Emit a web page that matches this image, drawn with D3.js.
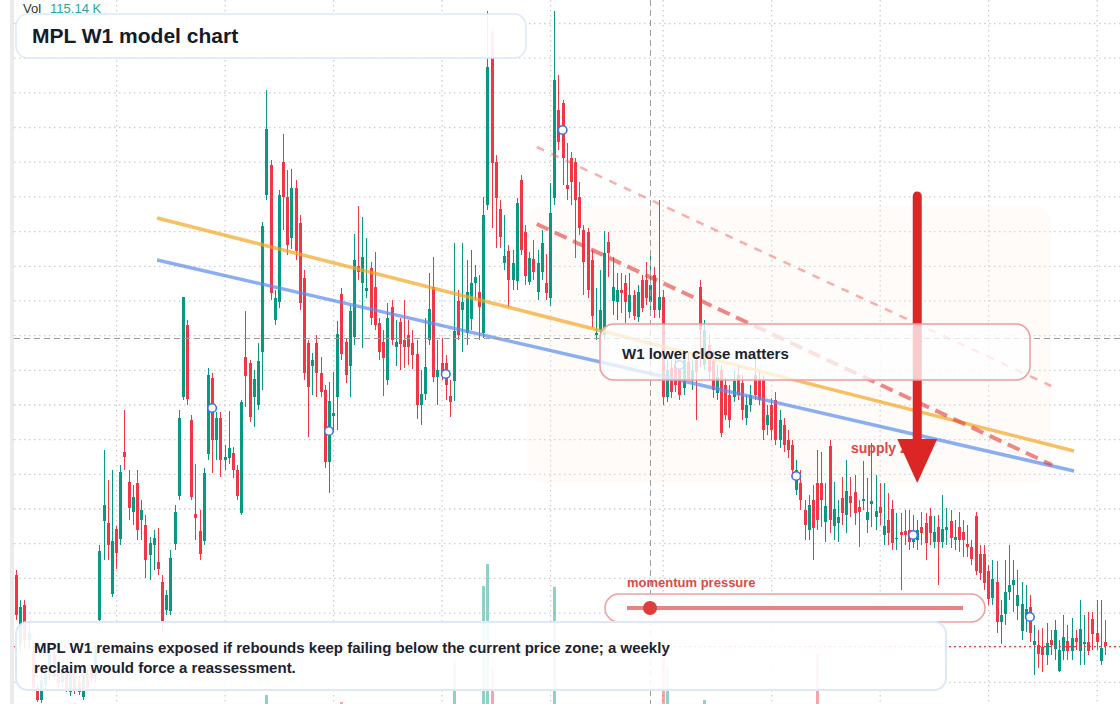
<!DOCTYPE html>
<html>
<head>
<meta charset="utf-8">
<script src="https://cdn.jsdelivr.net/npm/d3@7"></script>
<style>
  html, body { margin: 0; padding: 0; background: #fff; overflow: hidden; }
  svg { display: block; font-family: "Liberation Sans", Arial, sans-serif; }
</style>
</head>
<body>
<svg id="chart" width="1120" height="704"></svg>
<script>
// weekly candles, [open, high, low, close]
var ohlc = [
  [22.5,23.0,18.0,18.5],[15.5,20.0,14.8,19.3],[19.5,20.0,15.2,16.0],[16.0,17.5,15.0,16.7],[14.8,15.5,11.1,11.2],
  [11.2,11.6,9.8,10.0],[10.0,12.8,9.7,12.0],[11.5,13.5,11.0,12.8],[12.7,15.5,12.0,14.7],[14.5,15.0,12.0,12.3],
  [13.5,14.2,11.2,11.7],[11.8,13.8,11.3,13.0],[13.2,13.6,10.8,11.2],[10.8,13.5,10.4,12.7],[12.5,13.0,10.6,11.0],
  [11.8,12.5,10.5,10.8],[10.3,13.0,10.0,12.5],[12.7,13.2,10.9,11.2],[13.0,13.5,11.8,12.2],[12.4,15.5,11.8,14.8],
  // 20
  [18.0,25.5,17.5,24.9],[27.9,35.0,24.0,29.5],[27.7,32.0,24.0,25.5],[20.6,33.0,20.3,25.9],[27.1,27.4,23.1,24.7],
  [26.1,33.5,25.5,32.8],[34.8,39.0,33.0,34.3],[31.8,33.0,28.0,29.2],[28.8,31.5,27.5,30.3],[31.7,33.0,26.0,27.0],
  [28.0,30.0,26.0,29.0],[27.5,28.5,22.2,24.0],[24.5,26.3,22.0,25.7],[25.5,27.0,23.0,26.2],[23.8,27.2,22.5,23.1],
  [21.8,22.5,16.8,17.8],[19.0,21.0,18.5,20.5],[18.9,25.0,18.5,24.2],[25.6,29.5,25.0,28.8],[30.4,39.0,30.0,38.2],
  // 40
  [40.3,50.3,40.0,50.3],[47.5,48.0,39.5,40.1],[38.0,38.5,30.0,30.3],[28.6,33.6,26.0,28.2],[26.9,29.0,24.0,24.6],
  [25.9,33.2,25.5,32.7],[34.6,43.2,34.0,42.5],[42.2,42.7,32.7,36.0],[36.0,38.8,34.0,38.2],[38.2,38.8,32.3,34.0],
  [34.0,35.5,33.0,34.3],[34.2,38.9,33.6,35.2],[34.7,35.3,32.2,33.0],[33.0,33.5,30.0,30.4],[28.7,40.0,28.5,39.8],
  [44.3,48.9,39.3,42.4],[43.7,44.0,37.8,38.3],[40.3,43.0,37.3,42.1],[39.5,45.7,39.0,43.9],[44.8,57.8,41.0,57.4],
  // 60
  [60.5,71.0,60.0,67.1],[63.5,64.0,50.0,50.7],[48.0,51.0,47.5,50.2],[49.8,61.0,49.2,60.5],[63.8,66.6,57.0,60.3],
  [60.3,63.0,54.5,55.5],[56.2,63.1,55.1,61.2],[61.2,62.0,54.0,54.9],[57.7,58.5,49.0,49.7],[52.2,53.0,42.0,42.7],
  [45.7,46.0,36.3,41.3],[43.4,44.7,40.5,44.0],[45.7,46.5,40.3,42.7],[42.7,44.3,40.3,40.8],[41.0,41.5,33.2,33.8],
  [33.8,41.8,30.7,39.9],[38.4,42.8,37.0,38.7],[40.3,47.9,37.0,46.6],[50.6,51.2,44.0,44.6],[45.8,46.2,41.7,42.5],
  // 80
  [43.4,49.5,40.3,48.9],[46.3,56.6,45.5,54.0],[53.4,59.4,52.0,52.8],[51.7,58.3,45.2,54.3],[50.9,56.2,50.2,51.2],
  [53.2,53.8,47.5,48.2],[51.3,54.8,47.0,47.5],[47.7,48.2,44.0,44.8],[45.8,47.0,40.4,44.2],[42.0,49.7,41.5,48.2],
  [49.3,50.0,45.5,46.0],[45.3,48.0,43.4,45.8],[47.8,48.2,43.0,45.6],[46.0,50.0,43.2,45.3],[46.5,48.0,43.5,45.3],
  [45.7,47.0,43.1,44.5],[44.6,46.0,38.1,39.5],[39.5,43.0,37.5,40.6],[40.6,48.2,40.0,43.3],[46.0,52.7,45.5,49.1],
  // 100
  [51.3,54.3,41.8,42.3],[42.3,46.0,39.5,43.0],[43.7,46.2,42.0,42.6],[43.7,44.5,40.0,41.5],[40.4,42.0,38.3,39.8],
  [41.9,55.7,39.9,46.9],[49.9,51.0,46.0,46.5],[49.0,55.7,44.8,49.8],[46.7,54.0,45.5,50.8],[48.1,55.0,47.0,51.7],
  [51.7,53.5,50.0,52.3],[50.8,52.5,46.0,49.3],[46.7,60.3,46.2,58.5],[59.5,78.9,59.0,73.3],[76.8,77.2,57.2,63.7],
  [63.8,64.5,55.2,60.2],[59.1,60.0,55.2,56.3],[53.7,58.5,53.0,54.4],[54.9,55.5,49.3,52.0],[52.0,55.0,51.0,53.7],
  // 120
  [51.9,60.2,51.0,59.7],[62.0,62.5,54.5,55.0],[56.8,57.5,51.5,52.4],[51.8,54.8,51.5,54.2],[54.1,56.0,52.0,52.8],
  [50.8,55.0,50.0,53.7],[52.8,57.0,52.0,55.7],[51.7,54.6,50.0,50.7],[50.2,61.7,49.4,58.7],[60.2,78.9,59.5,72.0],
  [69.0,72.5,65.0,65.8],[69.7,70.0,61.5,64.2],[61.5,65.7,60.0,61.1],[64.2,64.8,59.5,61.8],[63.8,64.2,54.2,60.0],
  [60.3,61.8,56.5,57.2],[57.0,57.5,50.5,53.8],[56.8,57.2,50.2,51.0],[54.0,55.0,47.3,48.4],[46.5,51.2,46.0,46.7],
  // 140
  [47.0,53.0,46.5,49.0],[46.5,56.9,46.0,54.7],[55.8,56.8,52.3,54.7],[49.9,54.3,48.5,51.3],[49.8,52.7,48.0,51.0],
  [51.0,52.7,48.7,50.7],[51.7,52.5,47.7,49.8],[48.8,52.7,48.2,50.5],[50.5,51.0,48.0,48.4],[48.3,51.5,47.8,50.8],
  [52.0,52.5,48.8,49.2],[52.0,53.8,49.5,50.2],[49.8,55.0,49.0,51.5],[52.5,53.3,48.2,49.0],[49.0,60.0,48.2,50.3],
  [50.3,51.0,39.5,40.3],[40.3,44.0,39.8,43.0],[43.2,44.0,40.2,40.8],[43.5,44.5,40.8,41.5],[43.2,44.0,40.0,40.5],
  // 160
  [41.2,45.0,40.5,44.0],[43.8,44.8,42.0,42.0],[42.0,44.0,41.0,43.0],[44.0,45.0,38.0,42.8],[51.3,52.0,43.3,47.0],
  [43.5,48.0,43.0,47.0],[45.5,46.5,42.0,42.8],[44.0,45.0,40.2,41.0],[40.7,43.5,40.0,42.3],[43.0,43.5,36.3,36.7],
  [41.5,42.2,38.0,38.5],[40.5,41.5,37.2,38.0],[40.3,43.0,39.8,41.9],[42.5,43.5,40.0,40.5],[41.7,42.5,38.0,39.0],
  [38.2,40.5,37.5,39.5],[39.5,41.5,38.8,40.5],[42.5,44.5,40.0,40.5],[42.0,43.0,39.5,40.0],[42.0,42.5,36.0,37.0],
  // 180
  [37.5,39.5,36.5,38.5],[39.5,40.2,36.0,37.0],[40.0,40.8,35.5,36.0],[36.0,39.0,35.2,38.0],[37.5,38.2,34.8,35.5],
  [36.0,37.0,34.2,35.0],[35.5,36.0,32.2,33.0],[31.0,34.0,30.5,33.0],[31.7,33.0,29.0,30.0],[29.0,30.0,26.0,27.5],
  [27.0,30.5,26.0,29.5],[30.0,31.5,24.0,27.2],[31.7,35.0,27.0,28.0],[31.7,34.8,27.3,30.0],[27.8,31.7,25.8,29.4],
  [35.4,36.0,26.7,28.0],[27.4,31.8,26.0,29.1],[27.7,30.0,25.8,28.3],[30.2,32.3,27.5,28.7],[28.5,34.0,26.7,30.9],
  // 200
  [30.4,32.3,28.3,29.7],[30.8,32.5,27.5,28.7],[29.3,30.0,25.3,28.8],[29.9,33.9,29.0,30.1],[28.0,32.2,26.7,28.8],
  [29.6,35.7,27.3,29.9],[28.3,32.5,27.0,28.9],[29.3,31.7,27.5,28.7],[26.5,31.7,25.5,27.4],[28.0,30.7,25.5,26.7],
  [29.1,30.0,25.0,25.7],[26.1,28.7,25.0,26.2],[26.8,28.7,21.0,26.5],[26.9,29.0,25.5,26.5],[27.0,29.0,25.0,25.8],
  [25.8,28.5,25.2,26.7],[26.0,28.0,25.0,27.0],[27.3,28.8,25.5,26.7],[27.7,28.7,24.0,25.7],[28.4,29.2,25.5,26.7],
  // 220
  [25.8,28.4,25.2,26.8],[27.3,28.5,21.5,25.8],[25.8,30.5,25.2,27.1],[27.0,29.2,25.5,27.3],[27.9,29.0,25.2,26.2],
  [26.0,28.0,25.0,26.3],[27.3,28.8,24.8,26.0],[26.8,28.0,24.3,26.0],[25.6,27.5,24.3,25.3],[25.3,26.0,23.5,24.1],
  [28.4,28.8,22.5,22.9],[24.6,25.5,22.0,22.7],[24.6,25.5,21.0,21.7],[22.9,23.5,19.5,20.1],[20.2,24.0,19.5,22.1],
  [21.8,23.9,16.7,17.8],[17.8,20.0,15.6,18.5],[18.6,24.0,17.5,20.8],[20.8,25.5,20.0,21.5],[21.5,24.0,18.8,22.0],
  // 240
  [19.4,23.0,18.0,20.5],[16.9,21.8,16.0,19.6],[18.1,21.5,16.8,19.1],[19.3,20.5,15.8,16.7],[15.5,17.5,12.5,15.9],
  [15.5,17.0,13.2,14.6],[15.3,17.2,12.8,14.5],[14.5,17.7,13.5,15.7],[16.0,17.0,14.5,15.5],[15.1,18.0,14.0,17.0],
  [12.9,16.0,12.8,15.0],[14.9,18.5,14.0,16.3],[15.9,17.5,14.0,14.9],[14.9,18.2,14.0,16.2],[16.2,17.0,15.0,15.8],
  [14.9,20.0,13.5,17.1],[15.6,18.5,13.5,15.8],[15.8,18.8,14.5,14.9],[18.1,18.8,15.0,16.6],[16.7,20.0,15.0,15.8],
  // 260
  [13.9,20.0,13.5,15.2],[15.8,18.0,14.5,15.4]
];

// volume in K
var volume = [
  220,180,160,150,210,260,240,170,190,150,140,160,150,170,140,130,160,150,140,200,
  270,260,250,240,200,260,240,210,180,200,170,190,160,150,170,230,160,220,240,270,
  280,270,260,220,200,260,270,250,220,240,180,190,170,180,200,260,250,200,220,270,
  600,280,250,270,260,240,230,250,260,270,250,190,200,180,220,230,180,260,350,230,
  240,270,200,250,180,220,220,200,190,230,200,170,180,170,160,170,250,180,220,260,
  270,210,180,190,200,1800,260,220,230,240,190,200,4430,5200,1550,270,260,240,230,220,
  270,260,230,210,200,220,230,210,270,4400,280,270,260,250,270,240,260,250,260,220,
  230,270,260,220,200,190,210,200,190,200,210,200,220,230,240,2460,1550,260,230,240,
  220,200,230,260,240,420,230,220,200,260,240,220,210,220,230,200,190,210,220,260,
  200,220,240,210,220,200,240,260,230,250,230,240,2040,260,220,270,220,200,220,230,
  210,220,200,200,190,220,200,210,200,220,230,210,250,200,210,200,190,210,220,210,
  200,230,210,200,220,190,210,200,200,220,260,230,240,250,220,270,230,220,210,200,
  200,220,210,230,220,200,210,190,180,200,190,210,200,190,180,200,190,200,180,190,
  170,115.14
];

var gridPrices = [77.7, 74.23, 70.76, 67.3, 63.83, 60.36, 56.89, 53.42, 49.96, 46.49,
  43.02, 39.55, 36.08, 32.62, 29.15, 25.68, 22.21, 18.74, 15.28, 11.81];
var gridIdx = [24, 50, 76, 102, 128, 155, 181, 207, 233, 259];

var markerIdx = [47, 75, 103, 131, 159, 187, 215, 243];
var markerPrice = [39.2, 36.9, 42.6, 67.0, 43.5, 32.4, 26.5, 18.3];

var orangeLine = [[33.8, 58.2], [253.6, 34.9]];
var blueLine = [[33.8, 54.0], [253.6, 32.9]];
var upperDash = [[124.8, 65.3], [248.1, 41.4]];
var lowerDash = [[124.8, 57.6], [248.3, 33.5]];
var zoneIdx = [122.4, 248.1], zonePrice = [59.4, 31.7];
var arrowIdx = 216, arrowPrice = [60.4, 31.7];
var crossIdx = 152, crossPrice = 46.2;
var lastPrice = 15.4;

var title = "MPL W1 model chart";
var note = ["MPL W1 remains exposed if rebounds keep failing below the current price zone; a weekly",
  "reclaim would force a reassessment."];

var W = 1120, H = 704;
var upColor = "#089981", downColor = "#f23645";

var svg = d3.select("#chart");
var x = d3.scaleLinear().domain([0, ohlc.length - 1]).range([16, 1105]);
var y = d3.scaleLinear().domain([9.6, 80]).range([H, 0]);
var yVol = d3.scaleLinear().domain([0, 5200]).range([712, 564]);

svg.append("rect").attr("width", W).attr("height", H).attr("fill", "#fff");
svg.append("rect").attr("x", 10).attr("width", 4).attr("height", H).attr("fill", "#ebebeb");

// grid
svg.append("g").attr("class", "gridY").attr("transform", "translate(14,0)")
  .call(d3.axisRight(y).tickValues(gridPrices).tickSize(W - 14).tickFormat(""));
svg.append("g").attr("class", "gridX")
  .call(d3.axisBottom(x).tickValues(gridIdx).tickSize(H).tickFormat(""));
svg.selectAll(".gridY .domain, .gridX .domain").remove();
svg.selectAll(".gridY line, .gridX line")
  .attr("stroke", "#cdcdcd").attr("stroke-width", 1.3).attr("stroke-dasharray", "1.5,3.5");

// shaded zone
svg.append("rect")
  .attr("x", x(zoneIdx[0])).attr("y", y(zonePrice[0]))
  .attr("width", x(zoneIdx[1]) - x(zoneIdx[0])).attr("height", y(zonePrice[1]) - y(zonePrice[0]))
  .attr("rx", 18).attr("fill", "#fbeee4").attr("opacity", 0.22);

// volume
svg.append("g").selectAll("rect").data(volume).enter().append("rect")
  .attr("x", function (d, i) { return Math.round(x(i)) - 1; })
  .attr("y", function (d) { return yVol(d); })
  .attr("width", 3)
  .attr("height", function (d) { return yVol(0) - yVol(d); })
  .attr("fill", function (d, i) { return ohlc[i][3] >= ohlc[i][0] ? upColor : downColor; })
  .attr("opacity", 0.45);

// candles
var candle = svg.append("g").selectAll("g").data(ohlc).enter().append("g");
candle.append("line")
  .attr("x1", function (d, i) { return Math.round(x(i)) + 0.5; })
  .attr("x2", function (d, i) { return Math.round(x(i)) + 0.5; })
  .attr("y1", function (d) { return y(d[1]); })
  .attr("y2", function (d) { return y(d[2]); })
  .attr("stroke", function (d) { return d[3] >= d[0] ? upColor : downColor; })
  .attr("stroke-width", 1);
candle.append("rect")
  .attr("x", function (d, i) { return Math.round(x(i)) - 1; })
  .attr("y", function (d) { return y(Math.max(d[0], d[3])); })
  .attr("width", 3)
  .attr("height", function (d) { return Math.max(1, Math.abs(y(d[0]) - y(d[3]))); })
  .attr("fill", function (d) { return d[3] >= d[0] ? upColor : downColor; });

// trend lines
function seg(pts, color, w, op, dash) {
  svg.append("line")
    .attr("x1", x(pts[0][0])).attr("y1", y(pts[0][1]))
    .attr("x2", x(pts[1][0])).attr("y2", y(pts[1][1]))
    .attr("stroke", color).attr("stroke-width", w).attr("opacity", op)
    .attr("stroke-dasharray", dash || null);
}
seg(orangeLine, "#f5a623", 3.5, 0.7);
seg(blueLine, "#5b8def", 3.5, 0.7);
seg(upperDash, "#ef5350", 2.5, 0.45, "8,8");
seg(lowerDash, "#e53935", 4, 0.6, "13,7");

// markers
svg.append("g").selectAll("circle").data(markerIdx).enter().append("circle")
  .attr("cx", function (d) { return x(d); })
  .attr("cy", function (d, i) { return y(markerPrice[i]); })
  .attr("r", 4.3).attr("fill", "#fff").attr("stroke", "#3d6fe8").attr("stroke-width", 1.6);

// crosshair + last price
svg.append("line").attr("x1", Math.round(x(crossIdx)) + 0.5).attr("x2", Math.round(x(crossIdx)) + 0.5)
  .attr("y1", 0).attr("y2", H).attr("stroke", "#9c9c9c").attr("stroke-dasharray", "6,4");
svg.append("line").attr("x1", 14).attr("x2", W)
  .attr("y1", Math.round(y(crossPrice)) + 0.5).attr("y2", Math.round(y(crossPrice)) + 0.5)
  .attr("stroke", "#9c9c9c").attr("stroke-dasharray", "6,4");
svg.append("line").attr("x1", 14).attr("x2", W)
  .attr("y1", Math.round(y(lastPrice)) + 0.5).attr("y2", Math.round(y(lastPrice)) + 0.5)
  .attr("stroke", downColor).attr("stroke-dasharray", "2,3");

// supply zone label + arrow
svg.append("text").attr("x", 851).attr("y", 453)
  .attr("font-size", 14).attr("font-weight", "bold").attr("fill", "#e04848").text("supply zone");
var ax = x(arrowIdx);
svg.append("line").attr("x1", ax).attr("x2", ax)
  .attr("y1", y(arrowPrice[0])).attr("y2", y(arrowPrice[1]) - 40)
  .attr("stroke", "#dc2626").attr("stroke-width", 9).attr("stroke-linecap", "round");
svg.append("path")
  .attr("d", "M" + (ax - 20) + "," + (y(arrowPrice[1]) - 44) + "L" + (ax + 20) + "," + (y(arrowPrice[1]) - 44)
    + "L" + ax + "," + y(arrowPrice[1]) + "Z")
  .attr("fill", "#dc2626");

// W1 callout
svg.append("rect").attr("x", 600).attr("y", 324).attr("width", 430).attr("height", 56).attr("rx", 14)
  .attr("fill", "#fff").attr("fill-opacity", 0.76).attr("stroke", "#f09c9c").attr("stroke-width", 1.5);
svg.append("text").attr("x", 622).attr("y", 359).attr("font-size", 15).attr("font-weight", "bold")
  .attr("fill", "#1b2230").text("W1 lower close matters");

// momentum slider
svg.append("text").attr("x", 627).attr("y", 587).attr("font-size", 13).attr("font-weight", "bold")
  .attr("fill", "#e04848").text("momentum pressure");
svg.append("rect").attr("x", 605).attr("y", 594).attr("width", 380).attr("height", 28).attr("rx", 14)
  .attr("fill", "#fff").attr("fill-opacity", 0.9).attr("stroke", "#f0a0a0").attr("stroke-width", 1.5);
svg.append("line").attr("x1", 627).attr("x2", 963).attr("y1", 608).attr("y2", 608)
  .attr("stroke", "#e98383").attr("stroke-width", 4);
svg.append("circle").attr("cx", 650).attr("cy", 608).attr("r", 7).attr("fill", "#e03c3c");

// bottom note
svg.append("rect").attr("x", 16).attr("y", 622).attr("width", 930).attr("height", 68).attr("rx", 12)
  .attr("fill", "#fff").attr("fill-opacity", 0.9).attr("stroke", "#dde8fa").attr("stroke-width", 2);
svg.append("g").selectAll("text").data(note).enter().append("text")
  .attr("x", 34).attr("y", function (d, i) { return 653 + i * 20; })
  .attr("font-size", 15).attr("font-weight", "bold").attr("fill", "#1b2230")
  .text(function (d) { return d; });

// title
svg.append("rect").attr("x", 16).attr("y", 14).attr("width", 510).attr("height", 44).attr("rx", 12)
  .attr("fill", "#fff").attr("fill-opacity", 0.92).attr("stroke", "#dce7fa").attr("stroke-width", 1.5);
svg.append("text").attr("x", 32).attr("y", 43).attr("font-size", 21).attr("font-weight", "bold")
  .attr("fill", "#131c2b").text(title);

// volume legend
var leg = svg.append("text").attr("x", 23).attr("y", 13).attr("font-size", 13);
leg.append("tspan").attr("fill", "#333").text("Vol");
leg.append("tspan").attr("dx", 9).attr("fill", "#22ab94")
  .text(d3.format(".2f")(volume[volume.length - 1]) + " K");
</script>
</body>
</html>
